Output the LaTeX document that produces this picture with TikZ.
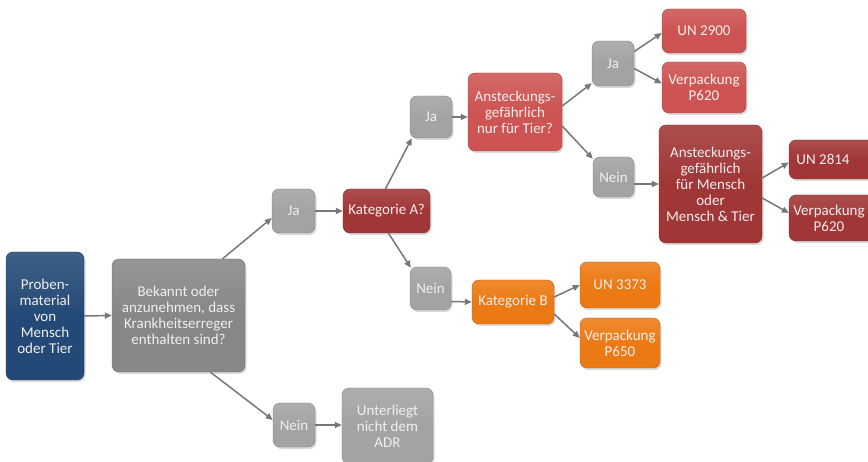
\documentclass[tikz,border=0pt]{standalone}
\usepackage{fontspec}
\setmainfont{Carlito}
\usetikzlibrary{arrows.meta,calc,shadows}
\definecolor{cblue}{HTML}{234A76}
\definecolor{cgray}{HTML}{878787}
\definecolor{clgray}{HTML}{A3A3A3}
\definecolor{cdred}{HTML}{A13636}
\definecolor{clred}{HTML}{CD5452}
\definecolor{corange}{HTML}{EC7A14}
\definecolor{carrow}{HTML}{777777}
\definecolor{ctext}{HTML}{F2EEEE}
\tikzset{
  box/.style={draw=#1!80!black, line width=0.4pt, rounded corners=7pt, inner sep=1pt,
    top color=#1!88!white, bottom color=#1, middle color=#1, align=center, text=ctext,
    font=\fontsize{15}{16}\selectfont,
    drop shadow={shadow xshift=1.5pt, shadow yshift=-2pt, opacity=0.3}},
  boxtext/.style={align=center, text=ctext, inner sep=0pt, font=\fontsize{15}{16}\selectfont},
  sz/.style 2 args={minimum width=#1pt, minimum height=#2pt},
  conn/.style={draw=carrow, line width=1.5pt, -{Triangle[length=7pt,width=6pt]}}
}
\begin{document}
\begin{tikzpicture}[x=1pt,y=-1pt]
\useasboundingbox (0,0) rectangle (868,462);
\clip (0,0) rectangle (868,462);
\node[box=cblue, sz={78}{128}] (proben) at (45,316) {Proben-\\material\\von\\Mensch\\oder Tier};
\node[box=cgray, sz={133}{113}] (bek) at (178.5,315.5) {Bekannt oder\\anzunehmen, dass\\Krankheitserreger\\enthalten sind?};
\node[box=clgray, sz={43}{44}] (ja1) at (293.5,211) {Ja};
\node[box=cdred, sz={87}{44}] (katA) at (386.5,211) {Kategorie A?};
\node[box=clgray, sz={42}{42}] (ja2) at (431,117) {Ja};
\node[box=clgray, sz={41}{43}] (nein2) at (430.5,288.5) {Nein};
\node[box=clred, sz={94}{78}] (anst1) at (515,112) {Ansteckungs-\\gefährlich\\nur für Tier?};
\node[box=clgray, sz={42}{45}] (ja3) at (613,63.5) {Ja};
\node[box=clred, sz={84}{44}] (un2900) at (704,31) {UN 2900};
\node[box=clred, sz={84}{51}] (p620a) at (704,87.5) {Verpackung\\P620};
\node[box=clgray, sz={41}{40}] (nein3) at (613.5,177) {Nein};
\node[box=cdred, sz={103}{118}] (anst2) at (710.5,184) {Ansteckungs-\\gefährlich\\für Mensch\\oder\\Mensch \& Tier};
\node[box=cdred, sz={92}{39}] (un2814) at (835,159.5) {};
\node[boxtext] (un2814t) at (823,159.5) {UN 2814};
\node[box=cdred, sz={92}{46}] (p620b) at (835,218) {};
\node[boxtext] (p620bt) at (829,218) {Verpackung\\P620};
\node[box=corange, sz={82}{44}] (katB) at (513,302) {Kategorie B};
\node[box=corange, sz={80}{46}] (un3373) at (620,285) {UN 3373};
\node[box=corange, sz={80}{50}] (p650) at (620,343) {Verpackung\\P650};
\node[box=clgray, sz={42}{44}] (neinb) at (294,425) {Nein};
\node[box=clgray, sz={91}{76}] (unter) at (387.5,426) {Unterliegt\\nicht dem\\ADR};

\draw[conn] (proben.east) -- (bek.west);
\draw[conn] ($(bek.north)+(44,0)$) -- ($(ja1.west)+(0,7)$);
\draw[conn] ($(bek.south)+(32,0)$) -- ($(neinb.west)+(0,-5)$);
\draw[conn] (neinb.east) -- (neinb.east -| unter.west);
\draw[conn] (ja1.east) -- (katA.west);
\draw[conn] ($(katA.north)+(-1,0)$) -- ($(ja2.south west)+(2,0)$);
\draw[conn] ($(katA.south)+(2,0)$) -- ($(nein2.north west)+(1,1)$);
\draw[conn] (ja2.east) -- (ja2.east -| anst1.west);
\draw[conn] ($(anst1.east)+(0,-6)$) -- ($(ja3.south west)+(0,-3)$);
\draw[conn] ($(anst1.east)+(0,14)$) -- ($(nein3.north west)+(0,2)$);
\draw[conn] ($(ja3.east)+(0,-12)$) -- ($(un2900.west)+(0,2)$);
\draw[conn] ($(ja3.east)+(0,5)$) -- ($(p620a.west)+(0,-4)$);
\draw[conn] ($(nein3.east)+(0,7)$) -- (anst2.west);
\draw[conn] ($(anst2.east)+(0,-6)$) -- ($(un2814.west)+(0,3)$);
\draw[conn] ($(anst2.east)+(0,14)$) -- ($(p620b.west)+(0,-5)$);
\draw[conn] ($(nein2.east)+(0,13)$) -- (katB.west);
\draw[conn] ($(katB.east)+(0,-5)$) -- (un3373.west);
\draw[conn] ($(katB.east)+(0,12)$) -- ($(p650.west)+(0,-5)$);
\end{tikzpicture}
\end{document}
